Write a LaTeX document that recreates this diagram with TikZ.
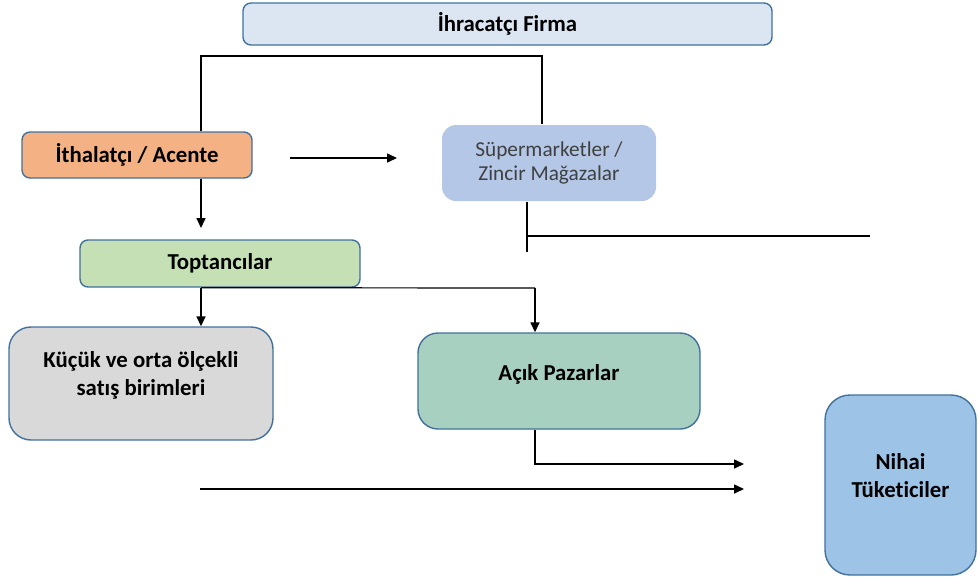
\documentclass[tikz,border=0pt]{standalone}
\usepackage{fontspec}
\setmainfont{Carlito}[RawFeature=-liga]
\usepackage{xcolor}
\usepackage{tikz}
\usetikzlibrary{arrows.meta,positioning}

\definecolor{edgeblue}{HTML}{41719C}
\definecolor{exportfill}{HTML}{DCE6F2}
\definecolor{importfill}{HTML}{F4B183}
\definecolor{superfill}{HTML}{B4C7E7}
\definecolor{wholefill}{HTML}{C5E0B4}
\definecolor{smallfill}{HTML}{D9D9D9}
\definecolor{openfill}{HTML}{A8D0C0}
\definecolor{finalfill}{HTML}{9DC3E6}

\begin{document}
\begin{tikzpicture}[x=1pt, y=-1pt,
    box/.style={draw=edgeblue, line width=1.4pt, rounded corners=8pt, align=center,
                inner sep=0pt, font=\fontsize{22.8}{28}\selectfont\bfseries},
    boxtext/.style={font=\fontsize{22.8}{28}\selectfont\bfseries, align=center},
    link/.style={line width=1.2pt},
    arr/.style={line width=1.6pt, -{Triangle[length=10pt,width=9pt]}}]
    \useasboundingbox (0,0) rectangle (978,579);

    % Boxes
    \node[box, fill=exportfill, minimum width=529pt, minimum height=42pt] (export) at (507.5,24) {İhracatçı Firma};
    \node[box, fill=importfill, minimum width=230pt, minimum height=46pt] (import) at (137,155) {İthalatçı / Acente};
    \node[box, draw=none, fill=superfill, rounded corners=14pt, minimum width=214pt, minimum height=76pt,
          font=\fontsize{21.3}{24}\selectfont, text=black!75] (super) at (549,163) {Süpermarketler /\\Zincir Mağazalar};
    \node[box, fill=wholefill, minimum width=280pt, minimum height=47pt] (whole) at (220,263.5) {Toptancılar};
    \node[box, fill=smallfill, rounded corners=22pt, minimum width=264pt, minimum height=113pt,
          label={[boxtext, yshift=8pt]center:Küçük ve orta ölçekli\\satış birimleri}] (small) at (141,383.5) {};
    \node[box, fill=openfill, rounded corners=20pt, minimum width=282pt, minimum height=96pt,
          label={[boxtext, yshift=7pt]center:Açık Pazarlar}] (open) at (559,381) {};
    \node[box, fill=finalfill, rounded corners=25pt, minimum width=151pt, minimum height=180pt,
          label={[boxtext, yshift=9pt]center:Nihai\\Tüketiciler}] (final) at (900.5,485) {};

    % Helper points
    \coordinate (topleft) at (201,56);
    \coordinate (topright) at (542,56);
    \coordinate (impend) at (201,228);
    \coordinate (midstart) at (290,158);
    \coordinate (midend) at (397,158);
    \coordinate (supx) at (527,236);
    \coordinate (supend) at (527,252);
    \coordinate (suprun) at (870,236);
    \coordinate (openx) at (535,288);
    \coordinate (openend) at (744,464);
    \coordinate (lowstart) at (200,489);
    \coordinate (lowend) at (744,489);

    % Connectors
    \draw[link] (import.north -| topleft) -- (topleft) -- (topright) -- (super.north -| topright);
    \draw[arr] (import.south -| topleft) -- (impend);
    \draw[arr] (midstart) -- (midend);
    \draw[link] (super.south -| supx) -- (supend);
    \draw[link] (supx) -- (suprun);
    \draw[arr] (whole.south -| topleft) -- (small.north -| topleft);
    \draw[link] (whole.south -| topleft) -- (openx);
    \draw[arr] (openx) -- (open.north -| openx);
    \draw[arr] (open.south -| openx) |- (openend);
    \draw[arr] (lowstart) -- (lowend);
\end{tikzpicture}
\end{document}
